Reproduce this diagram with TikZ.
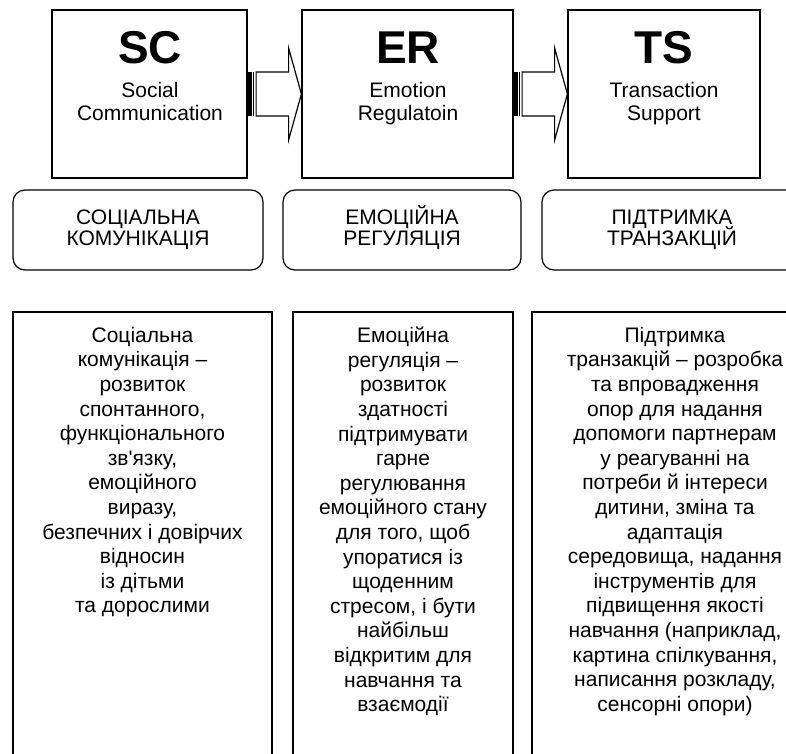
\documentclass[tikz,border=0pt]{standalone}
\usepackage{fontspec}
\setmainfont{Liberation Sans}[Ligatures=TeXOff]
\usepackage{tikz}

% striped block arrow from the east side of #1 to the west side of #2
\newcommand{\stripedarrow}[2]{%
  \begin{scope}[shift={(#1.east)}]
    \fill (0,-22) rectangle (4.5,22); % thick stripe
    \draw (6,-22) -- (6,22); % thin stripe
    \draw (8.5,-22) -- (41,-22) -- (41,-46) -- (#2.west) -- (41,46) -- (41,22) -- (8.5,22) -- cycle; % arrow body
  \end{scope}}

\begin{document}
\begin{tikzpicture}[x=1pt, y=-1pt, line width=1.2pt,
    topbox/.style={draw, inner sep=0, minimum height=168},
    abbr/.style={font=\fontsize{46}{46}\selectfont\bfseries, anchor=base, inner sep=0},
    subtitle/.style={font=\fontsize{21}{23.3}\selectfont, align=center, anchor=north, inner sep=0},
    namebox/.style={draw, rounded corners=12pt, inner sep=0, minimum height=80, align=center,
      font=\fontsize{21}{21}\selectfont},
    descbox/.style={draw, inner sep=0, minimum height=480},
    desctext/.style={font=\fontsize{21}{24.6}\selectfont, align=center, anchor=north, inner sep=0}]
  \useasboundingbox (0,0) rectangle (786,753);
  \clip (0,0) rectangle (786,753);
  % top row
  \node[topbox, minimum width=195] (sc) at (149.5,94) {};
  \node[topbox, minimum width=211] (er) at (407.5,94) {};
  \node[topbox, minimum width=192] (ts) at (664,94) {};
  \node[abbr] (scabbr) at (150,63) {SC};
  \node[abbr] (erabbr) at (408,63) {ER};
  \node[abbr] (tsabbr) at (664,63) {TS};
  \node[subtitle] (scsub) at (150,81.5) {Social\\Communication};
  \node[subtitle] (ersub) at (408,81.5) {Emotion\\Regulatoin};
  \node[subtitle] (tssub) at (664,81.5) {Transaction\\Support};
  \stripedarrow{sc}{er} % SC to ER
  \stripedarrow{er}{ts} % ER to TS
  % names (smash keeps the breve of Й from moving the lines)
  \node[namebox, minimum width=250] (scname) at (138,230) {СОЦІАЛЬНА\\КОМУНІКАЦІЯ};
  \node[namebox, minimum width=238] (ername) at (402,230) {ЕМОЦІ\smash{Й}НА\\РЕГУЛЯЦІЯ};
  \node[namebox, minimum width=260] (tsname) at (672,230) {ПІДТРИМКА\\ТРАНЗАКЦІ\smash{Й}};
  % descriptions
  \node[descbox, minimum width=259] (scdesc) at (142.5,552) {};
  \node[descbox, minimum width=220] (erdesc) at (403,552) {};
  \node[descbox, minimum width=286] (tsdesc) at (675,552) {};
  \node[desctext] (sctext) at ([yshift=-15pt]scdesc.north) {Соціальна\\комунікація –\\розвиток\\спонтанного,\\функціонального\\зв'язку,\\емоційного\\виразу,\\безпечних і довірчих\\відносин\\із дітьми\\та дорослими};
  \node[desctext] (ertext) at ([yshift=-15pt]erdesc.north) {Емоційна\\регуляція –\\розвиток\\здатності\\підтримувати\\гарне\\регулювання\\емоційного стану\\для того, щоб\\упоратися із\\щоденним\\стресом, і бути\\найбільш\\відкритим для\\навчання та\\взаємодії};
  \node[desctext] (tstext) at ([yshift=-15pt]tsdesc.north) {Підтримка\\транзакцій – розробка\\та впровадження\\опор для надання\\допомоги партнерам\\у реагуванні на\\потреби й інтереси\\дитини, зміна та\\адаптація\\середовища, надання\\інструментів для\\підвищення якості\\навчання (наприклад,\\картина спілкування,\\написання розкладу,\\сенсорні опори)};
\end{tikzpicture}
\end{document}
